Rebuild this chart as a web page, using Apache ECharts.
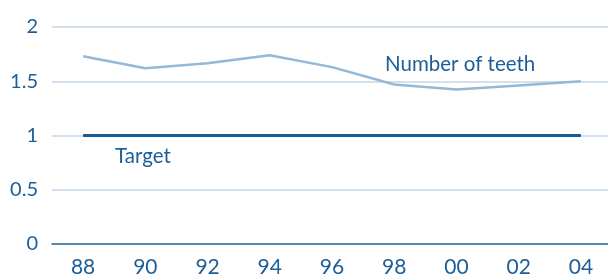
<!DOCTYPE html>
<html><head><meta charset="utf-8">
<script src="https://cdn.jsdelivr.net/npm/echarts@6/dist/echarts.min.js"></script>
<style>html,body{margin:0;padding:0;background:#fff}#c{width:608px;height:278px}</style>
</head><body><div id="c"></div>
<script>
const years = ['88','90','92','94','96','98','00','02','04'];
const teeth = [1.73, 1.62, 1.665, 1.74, 1.63, 1.47, 1.425, 1.46, 1.50];
const target = [1, 1, 1, 1, 1, 1, 1, 1, 1];
const yTicks = [0, 0.5, 1, 1.5, 2];
const txt = '#1d5e98';
const font = 'Lato';
const chart = echarts.init(document.getElementById('c'));
chart.setOption({
  animation: false,
  grid: {left: 52, width: 560, top: 27, bottom: 34, outerBoundsMode: 'none', containLabel: false},
  xAxis: {
    type: 'category', data: years, boundaryGap: true,
    axisLine: {lineStyle: {color: '#2a68a0', width: 1.5}},
    axisTick: {show: false},
    axisLabel: {color: txt, fontSize: 21, fontFamily: font, margin: 13}
  },
  yAxis: {
    type: 'value', min: 0, max: 2, interval: 0.5,
    axisLine: {show: false}, axisTick: {show: false},
    axisLabel: {color: txt, fontSize: 20, fontFamily: font, margin: 14, padding: [4, 0, 0, 0],
      formatter: v => yTicks.includes(v) ? String(v) : ''},
    splitLine: {lineStyle: {color: '#c4d6e7', width: 1.5}}
  },
  series: [
    {type: 'line', data: teeth, symbol: 'none', lineStyle: {color: '#93b8d8', width: 2.5}},
    {type: 'line', data: target, symbol: 'none', lineStyle: {color: '#175d98', width: 3}}
  ],
  graphic: [
    {type: 'text', x: 385, y: 64, style: {text: 'Number of teeth', fill: txt, font: '20.5px ' + font, verticalAlign: 'middle'}},
    {type: 'text', x: 115, y: 156, style: {text: 'Target', fill: txt, font: '20.5px ' + font, verticalAlign: 'middle'}}
  ]
});
</script></body></html>
